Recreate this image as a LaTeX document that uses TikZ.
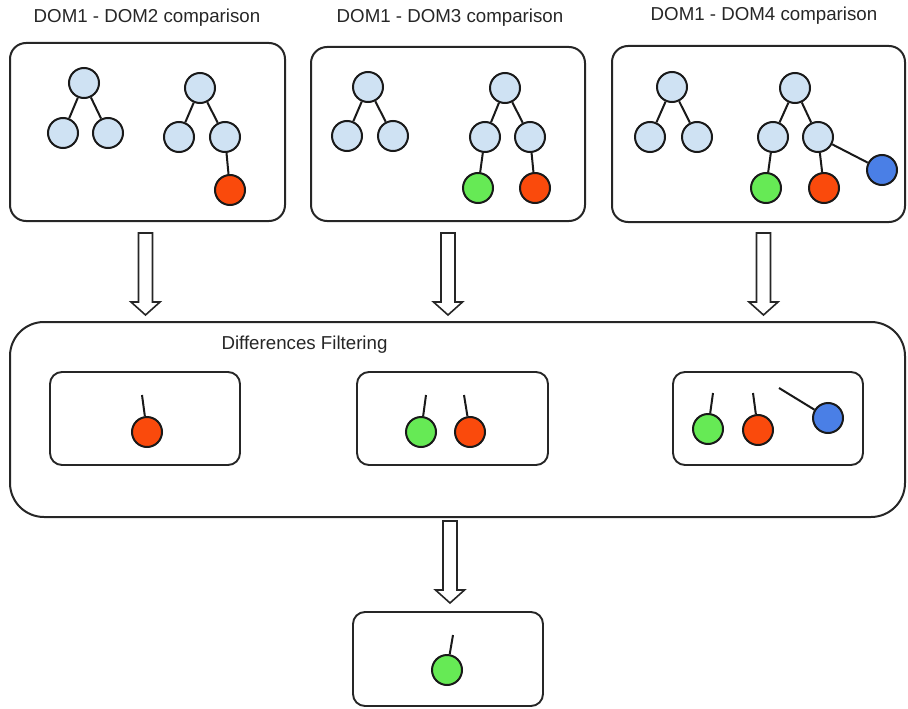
\documentclass[tikz,border=0pt]{standalone}
\usepackage{fontspec}
\setmainfont{Liberation Sans}
\begin{document}
\begin{tikzpicture}[x=1pt,y=-1pt,
  panel/.style={draw=black!85, line width=2pt, rounded corners=16pt},
  bigpanel/.style={draw=black!85, line width=2pt, rounded corners=34pt},
  subpanel/.style={draw=black!85, line width=1.9pt, rounded corners=12pt},
  dnode/.style={circle, draw=black!90, line width=2pt, minimum size=30pt, inner sep=0pt},
  blue0/.style={dnode, fill=lblue},
  redn/.style={dnode, fill=nred},
  greenn/.style={dnode, fill=ngreen},
  bluen/.style={dnode, fill=nblue},
  edge/.style={draw=black!90, line width=2pt},
  title/.style={font=\fontsize{18.7}{21}\selectfont, text=black!85},
  blockarrow/.pic={\draw[line width=1.6pt, draw=black!85, fill=white, line join=miter]
     (-7,0) -- (7,0) -- (7,69) -- (14.5,69) -- (0,82) -- (-14.5,69) -- (-7,69) -- cycle;}
]
\definecolor{lblue}{HTML}{CFE2F3}
\definecolor{nred}{HTML}{FA4A0C}
\definecolor{ngreen}{HTML}{66EA55}
\definecolor{nblue}{HTML}{4A7FE6}
\useasboundingbox (0,0) rectangle (908,709);

% titles
\node[title] (t1) at (147,18) {DOM1 - DOM2 comparison};
\node[title] (t2) at (450,18) {DOM1 - DOM3 comparison};
\node[title] (t3) at (764,16) {DOM1 - DOM4 comparison};

% panels
\draw[panel] (10,43) rectangle (285,221);
\draw[panel] (311,47) rectangle (585,221);
\draw[panel] (612,46) rectangle (905,222);

% panel 1 trees
\node[blue0] (a1r) at (84,83) {};
\node[blue0] (a1l) at (63,133) {};
\node[blue0] (a1c) at (108,133) {};
\draw[edge] (a1r) -- (a1l) (a1r) -- (a1c);
\node[blue0] (b1r) at (200,88) {};
\node[blue0] (b1l) at (179,137) {};
\node[blue0] (b1c) at (225,137) {};
\node[redn] (b1red) at (230,190) {};
\draw[edge] (b1r) -- (b1l) (b1r) -- (b1c) (b1c) -- (b1red);

% panel 2 trees
\node[blue0] (a2r) at (368,87) {};
\node[blue0] (a2l) at (347,136) {};
\node[blue0] (a2c) at (393,136) {};
\draw[edge] (a2r) -- (a2l) (a2r) -- (a2c);
\node[blue0] (b2r) at (505,88) {};
\node[blue0] (b2l) at (485,137) {};
\node[blue0] (b2c) at (530,137) {};
\node[greenn] (b2g) at (478,188) {};
\node[redn] (b2red) at (535,188) {};
\draw[edge] (b2r) -- (b2l) (b2r) -- (b2c) (b2l) -- (b2g) (b2c) -- (b2red);

% panel 3 trees
\node[blue0] (a3r) at (672,87) {};
\node[blue0] (a3l) at (650,137) {};
\node[blue0] (a3c) at (697,137) {};
\draw[edge] (a3r) -- (a3l) (a3r) -- (a3c);
\node[blue0] (b3r) at (795,88) {};
\node[blue0] (b3l) at (773,137) {};
\node[blue0] (b3c) at (818,137) {};
\node[greenn] (b3g) at (766,188) {};
\node[redn] (b3red) at (824,188) {};
\node[bluen] (b3b) at (882,170) {};
\draw[edge] (b3r) -- (b3l) (b3r) -- (b3c) (b3l) -- (b3g) (b3c) -- (b3red) (b3c) -- (b3b);

% arrows
\pic at (145.5,233) {blockarrow};
\pic at (448,233) {blockarrow};
\pic at (763.5,233) {blockarrow};
\pic at (450,521) {blockarrow};

% filtering panel
\draw[bigpanel] (10,322) rectangle (905,517);
\node[title, anchor=west] (ft) at (218,345) {Differences Filtering};

\draw[subpanel] (50,372) rectangle (240,465);
\draw[subpanel] (357,372) rectangle (548,465);
\draw[subpanel] (673,372) rectangle (863,465);

\coordinate (s1) at (142,395);
\node[redn] (f1red) at (147,432) {};
\draw[edge] (s1) -- (f1red);

\coordinate (s2) at (426,395);
\node[greenn] (f2g) at (421,432) {};
\coordinate (s3) at (464,395);
\node[redn] (f2red) at (470,432) {};
\draw[edge] (s2) -- (f2g) (s3) -- (f2red);

\coordinate (s4) at (713,393);
\node[greenn] (f3g) at (708,429) {};
\coordinate (s5) at (753,393);
\node[redn] (f3red) at (758,430) {};
\coordinate (s6) at (779,388);
\node[bluen] (f3b) at (828,418) {};
\draw[edge] (s4) -- (f3g) (s5) -- (f3red) (s6) -- (f3b);

% result panel
\draw[subpanel] (353,612) rectangle (543,706);
\coordinate (s7) at (453,635);
\node[greenn] (rg) at (447,670) {};
\draw[edge] (s7) -- (rg);
\end{tikzpicture}
\end{document}
